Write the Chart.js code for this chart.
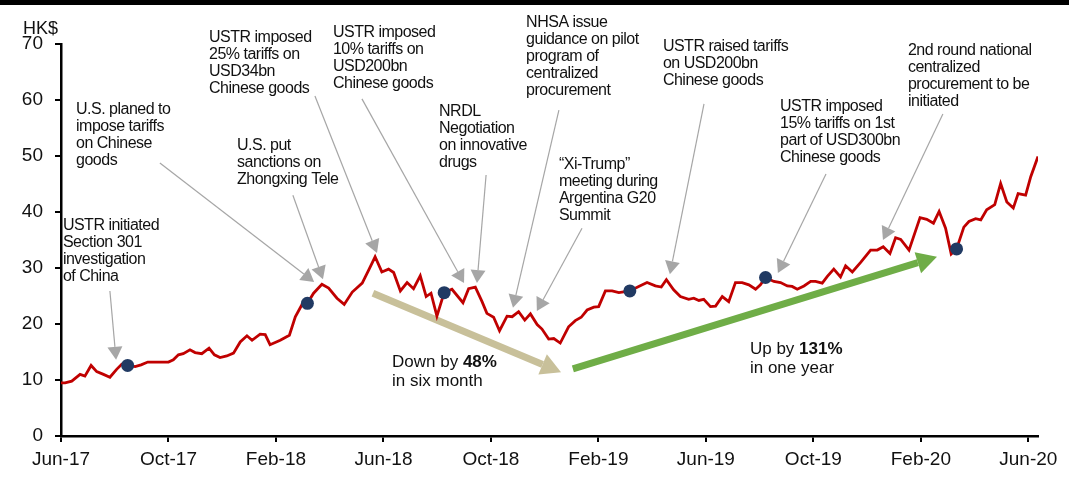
<!DOCTYPE html>
<html>
<head>
<meta charset="utf-8">
<script src="https://cdn.jsdelivr.net/npm/chart.js@4.4.1/dist/chart.umd.min.js"></script>
<style>
  html, body { margin: 0; padding: 0; background: #fff; }
  #wrap { width: 1069px; height: 477px; }
</style>
</head>
<body>
<div id="wrap"><canvas id="c" width="1069" height="477"></canvas></div>
<script>
// Weekly share price (HK$); x is months elapsed since Jun-17
const months = [0,0.15,0.40,0.71,0.89,1.12,1.33,1.58,1.82,2.07,2.26,2.48,2.76,2.98,3.23,3.50,3.75,4.00,4.18,4.37,4.55,4.80,4.99,5.24,5.51,5.71,5.92,6.17,6.42,6.67,6.92,7.11,7.41,7.60,7.78,8.16,8.50,8.72,8.96,9.17,9.40,9.71,9.96,10.27,10.54,10.84,11.21,11.45,11.69,11.94,12.19,12.38,12.63,12.88,13.12,13.37,13.59,13.77,13.99,14.26,14.55,14.96,15.17,15.42,15.67,15.85,16.10,16.32,16.60,16.79,17.03,17.26,17.47,17.72,17.90,18.15,18.34,18.58,18.89,19.14,19.36,19.58,19.83,20.01,20.26,20.51,20.76,21.17,21.50,21.81,22.12,22.34,22.53,22.80,23.05,23.36,23.55,23.74,23.92,24.17,24.36,24.61,24.85,25.10,25.35,25.60,25.85,26.03,26.22,26.53,26.78,27.03,27.21,27.40,27.65,27.90,28.08,28.33,28.52,28.76,29.01,29.20,29.45,29.76,30.13,30.38,30.60,30.85,31.06,31.25,31.56,31.97,32.22,32.47,32.68,32.92,33.13,33.33,33.60,33.79,34.04,34.23,34.45,34.75,34.97,35.20,35.44,35.62,35.90,36.09,36.36];
const prices = [9.5,9.5,9.8,11.0,10.7,12.6,11.5,11.0,10.5,11.9,12.8,12.6,12.4,12.7,13.2,13.2,13.2,13.2,13.6,14.5,14.7,15.4,14.9,14.7,15.7,14.5,14.0,14.3,14.8,16.8,17.9,17.1,18.2,18.1,16.3,17.1,18.0,21.3,23.4,23.7,25.5,27.1,26.4,24.6,23.5,25.7,27.3,29.6,32.0,29.3,29.8,29.2,25.9,27.4,26.3,28.6,24.9,25.5,21.4,25.6,26.2,23.8,26.3,26.6,24.0,21.9,21.2,18.8,21.4,21.3,22.2,20.7,21.8,19.9,19.1,17.3,17.4,16.6,19.5,20.6,21.2,22.5,23.0,23.1,25.9,25.9,25.6,25.9,26.7,27.4,26.8,26.6,27.9,26.1,24.9,24.4,24.6,24.2,24.4,23.1,23.2,24.9,24.0,27.4,27.4,27.0,26.2,27.0,28.3,27.6,27.4,26.8,26.7,26.2,26.8,27.6,27.6,27.3,28.5,29.8,28.4,30.4,29.3,31.0,33.2,33.2,33.8,32.6,35.4,35.1,33.2,39.0,38.7,38.0,40.1,37.1,32.5,33.4,37.3,38.3,38.8,38.6,40.4,41.3,45.1,41.8,40.7,43.3,43.0,46.3,49.9];

// Event dates marked on the line
const eventMonths = [2.48, 9.17, 14.26, 21.17, 26.22, 33.33];
const eventPrices = [12.6, 23.7, 25.6, 25.9, 28.3, 33.4];

// Axis ticks
const tickMonths = [0, 4, 8, 12, 16, 20, 24, 28, 32, 36];
const tickLabels = ['Jun-17','Oct-17','Feb-18','Jun-18','Oct-18','Feb-19','Jun-19','Oct-19','Feb-20','Jun-20'];
const yTicks = [0, 10, 20, 30, 40, 50, 60, 70];

// Call-out notes: text block anchor, arrow start and arrow tip in (month, HK$) units
const callouts = [
  { lines: ['USTR initiated','Section 301','investigation','of China'], at: [0.07, 37.5], from: [1.82, 25.9], to: [2.05, 13.6] },
  { lines: ['U.S. planed to','impose tariffs','on Chinese','goods'], at: [0.56, 58.2], from: [3.68, 48.75], to: [9.42, 27.5] },
  { lines: ['U.S. put','sanctions on','Zhongxing Tele'], at: [6.55, 51.8], from: [8.63, 43.0], to: [9.75, 28.0] },
  { lines: ['USTR imposed','25% tariffs on','USD34bn','Chinese goods'], at: [5.51, 71.1], from: [9.45, 60.7], to: [11.76, 32.7] },
  { lines: ['USTR imposed','10% tariffs on','USD200bn','Chinese goods'], at: [10.12, 72.0], from: [11.20, 60.2], to: [15.0, 27.3] },
  { lines: ['NRDL','Negotiation','on innovative','drugs'], at: [14.07, 57.9], from: [15.82, 46.6], to: [15.48, 27.3] },
  { lines: ['NHSA issue','guidance on pilot','program of','centralized','procurement'], at: [17.31, 73.75], from: [18.53, 58.2], to: [16.82, 22.9] },
  { lines: ['\u201CXi-Trump\u201D','meeting during','Argentina G20','Summit'], at: [18.53, 48.4], from: [19.39, 37.1], to: [17.71, 22.3] },
  { lines: ['USTR raised tariffs','on USD200bn','Chinese goods'], at: [22.40, 69.6], from: [23.93, 59.3], to: [22.66, 28.9] },
  { lines: ['USTR imposed','15% tariffs on 1st','part of USD300bn','Chinese goods'], at: [26.76, 58.9], from: [28.47, 46.8], to: [26.68, 29.1] },
  { lines: ['2nd round national','centralized','procurement to be','initiated'], at: [31.52, 68.9], from: [32.82, 57.5], to: [30.59, 35.0] }
];

// Trend arrows with their captions
const trends = [
  { from: [11.61, 25.5], to: [18.61, 11.4], color: '#C8C09A', text: ['Down by ', '48%', 'in six month'], at: [12.32, 13.2] },
  { from: [19.05, 12.0], to: [32.6, 32.0], color: '#6FAD47', text: ['Up by ', '131%', 'in one year'], at: [25.64, 15.5] }
];

const FONT = "'Liberation Sans', Arial, sans-serif";

function drawArrow(ctx, x1, y1, x2, y2, headLen, headHalf, lineW, color) {
  const ang = Math.atan2(y2 - y1, x2 - x1);
  const bx = x2 - headLen * Math.cos(ang);
  const by = y2 - headLen * Math.sin(ang);
  ctx.save();
  ctx.strokeStyle = color;
  ctx.lineWidth = lineW;
  ctx.lineCap = 'butt';
  ctx.beginPath();
  ctx.moveTo(x1, y1);
  ctx.lineTo(bx, by);
  ctx.stroke();
  ctx.fillStyle = color;
  ctx.beginPath();
  ctx.moveTo(x2, y2);
  ctx.lineTo(bx + headHalf * Math.sin(ang), by - headHalf * Math.cos(ang));
  ctx.lineTo(bx - headHalf * Math.sin(ang), by + headHalf * Math.cos(ang));
  ctx.closePath();
  ctx.fill();
  ctx.restore();
}

const decorations = {
  id: 'decorations',
  beforeDraw(chart) {
    const ctx = chart.ctx;
    ctx.save();
    ctx.fillStyle = '#ffffff';
    ctx.fillRect(0, 0, chart.width, chart.height);
    ctx.fillStyle = '#000000';
    ctx.fillRect(0, 0, chart.width, 5);
    ctx.restore();
  },
  beforeDatasetsDraw(chart) {
    const ctx = chart.ctx, xs = chart.scales.x, ys = chart.scales.y;
    trends.forEach(t => {
      drawArrow(ctx, xs.getPixelForValue(t.from[0]), ys.getPixelForValue(t.from[1]),
                xs.getPixelForValue(t.to[0]), ys.getPixelForValue(t.to[1]), 20, 11, 7, t.color);
    });
  },
  afterDatasetsDraw(chart) {
    const ctx = chart.ctx, xs = chart.scales.x, ys = chart.scales.y;
    ctx.save();
    callouts.forEach(c => {
      drawArrow(ctx, xs.getPixelForValue(c.from[0]), ys.getPixelForValue(c.from[1]),
                xs.getPixelForValue(c.to[0]), ys.getPixelForValue(c.to[1]), 13, 7.5, 1.2, '#A6A6A6');
    });
    ctx.fillStyle = '#111111';
    ctx.textBaseline = 'middle';
    ctx.textAlign = 'left';
    ctx.font = '16px ' + FONT;
    if ('letterSpacing' in ctx) ctx.letterSpacing = '-0.5px';
    callouts.forEach(c => {
      const x = xs.getPixelForValue(c.at[0]);
      const y = ys.getPixelForValue(c.at[1]);
      c.lines.forEach((ln, i) => ctx.fillText(ln, x, y + i * 17));
    });
    if ('letterSpacing' in ctx) ctx.letterSpacing = '0px';
    trends.forEach(t => {
      const x = xs.getPixelForValue(t.at[0]);
      const y = ys.getPixelForValue(t.at[1]);
      ctx.font = '17px ' + FONT;
      ctx.fillText(t.text[0], x, y);
      const w = ctx.measureText(t.text[0]).width;
      ctx.font = 'bold 17px ' + FONT;
      ctx.fillText(t.text[1], x + w, y);
      ctx.font = '17px ' + FONT;
      ctx.fillText(t.text[2], x, y + 19);
    });
    ctx.font = '18px ' + FONT;
    ctx.fillText('HK$', chart.chartArea.left - 38, chart.chartArea.top - 15);
    ctx.restore();
  }
};

new Chart(document.getElementById('c'), {
  type: 'scatter',
  data: {
    datasets: [
      {
        data: eventMonths.map((m, i) => ({ x: m, y: eventPrices[i] })),
        showLine: false,
        pointRadius: 6.5,
        pointHoverRadius: 6.5,
        pointBackgroundColor: '#213A63',
        pointBorderWidth: 0,
        order: 0
      },
      {
        data: months.map((m, i) => ({ x: m, y: prices[i] })),
        showLine: true,
        borderColor: '#C00000',
        borderWidth: 2.8,
        pointRadius: 0,
        tension: 0,
        fill: false,
        order: 1
      }
    ]
  },
  options: {
    responsive: false,
    animation: false,
    devicePixelRatio: 1,
    layout: { padding: { left: 0, right: 31, top: 44, bottom: 0 } },
    plugins: { legend: { display: false }, tooltip: { enabled: false } },
    scales: {
      x: {
        type: 'linear',
        min: 0,
        max: 36.36,
        afterBuildTicks(scale) { scale.ticks = tickMonths.map(v => ({ value: v })); },
        afterFit(scale) { scale.height = 41; },
        ticks: {
          autoSkip: false,
          maxRotation: 0,
          padding: 6,
          color: '#111',
          font: { family: FONT, size: 19 },
          callback: v => tickLabels[tickMonths.indexOf(v)]
        },
        grid: { drawOnChartArea: false, drawTicks: true, tickLength: 6, color: '#000', lineWidth: 2 },
        border: { display: true, color: '#000', width: 2.5 }
      },
      y: {
        min: 0,
        max: 70,
        afterBuildTicks(scale) { scale.ticks = yTicks.map(v => ({ value: v })); },
        afterFit(scale) { scale.width = 61; },
        ticks: {
          padding: 12,
          color: '#111',
          font: { family: FONT, size: 19 }
        },
        grid: { drawOnChartArea: false, drawTicks: true, tickLength: 6, color: '#000', lineWidth: 2 },
        border: { display: true, color: '#000', width: 2.5 }
      }
    }
  },
  plugins: [decorations]
});
</script>
</body>
</html>
